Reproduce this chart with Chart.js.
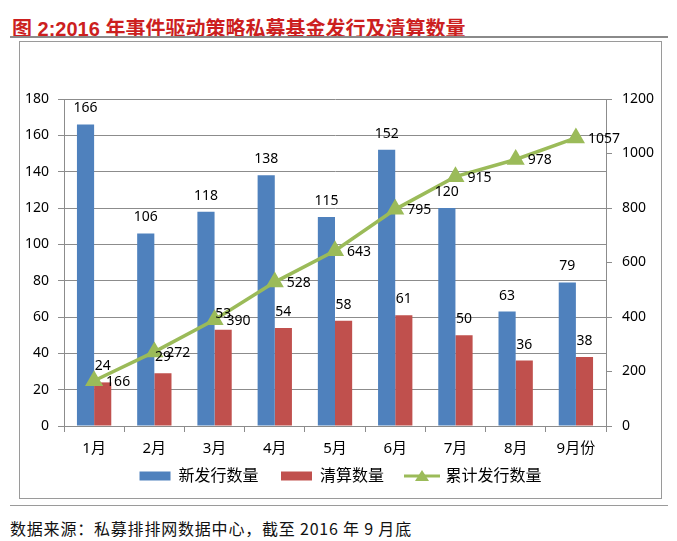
<!DOCTYPE html>
<html>
<head>
<meta charset="utf-8">
<script src="https://cdn.jsdelivr.net/npm/chart.js@4/dist/chart.umd.min.js"></script>
<style>
  body { margin: 0; background: #fff; width: 677px; height: 541px; position: relative; overflow: hidden; }
  #title {
    position: absolute; left: 12px; top: 13px; white-space: nowrap;
    font: bold 20px "Liberation Sans", "Noto Sans CJK SC", sans-serif; color: #CC1F1F;
  }
  #rule1 { position: absolute; left: 10px; top: 36px; width: 658px; height: 2px; background: #8a8a8a; }
  #box { position: absolute; left: 19px; top: 41px; width: 641px; height: 456px; border: 1px solid #9a9a9a; }
  #rule2 { position: absolute; left: 10px; top: 505px; width: 658px; height: 1px; background: #9a9a9a; }
  #source {
    position: absolute; left: 10px; top: 516px; white-space: nowrap; letter-spacing: 0.8px;
    font: 16px "Noto Sans CJK SC", sans-serif; color: #111;
  }
</style>
</head>
<body>
<div id="title">图 2:2016 年事件驱动策略私募基金发行及清算数量</div>
<div id="rule1"></div>
<div id="box"><canvas id="chart" width="641" height="456"></canvas></div>
<div id="rule2"></div>
<div id="source">数据来源：私募排排网数据中心，截至 2016 年 9 月底</div>
<script>
const months = ['1月', '2月', '3月', '4月', '5月', '6月', '7月', '8月', '9月份'];
const newFunds = [166, 106, 118, 138, 115, 152, 120, 63, 79];
const liquidated = [24, 29, 53, 54, 58, 61, 50, 36, 38];
const cumulative = [166, 272, 390, 528, 643, 795, 915, 978, 1057];
const leftTicks = [0, 20, 40, 60, 80, 100, 120, 140, 160, 180];
const rightTicks = [0, 200, 400, 600, 800, 1000, 1200];

const BLUE = '#4F81BD';
const RED = '#C0504D';
const GREEN = '#9BBB59';
const FONT = '"Noto Sans", "Noto Sans CJK SC", sans-serif';

// legend symbol for the line series: short line with a triangle
const lineSymbol = document.createElement('canvas');
lineSymbol.width = 36;
lineSymbol.height = 14;
(function () {
    const c = lineSymbol.getContext('2d');
    c.strokeStyle = GREEN;
    c.lineWidth = 3;
    c.beginPath();
    c.moveTo(0, 7);
    c.lineTo(36, 7);
    c.stroke();
    c.fillStyle = GREEN;
    c.beginPath();
    c.moveTo(18, 1);
    c.lineTo(25, 12);
    c.lineTo(11, 12);
    c.closePath();
    c.fill();
})();

const valueLabels = {
    id: 'valueLabels',
    afterDatasetsDraw(chart) {
        const ctx = chart.ctx;
        ctx.save();
        ctx.font = '14px ' + FONT;
        ctx.fillStyle = '#000';
        ctx.textBaseline = 'middle';
        chart.data.datasets.forEach((ds, i) => {
            const meta = chart.getDatasetMeta(i);
            meta.data.forEach((el, j) => {
                const v = ds.data[j];
                if (ds.type === 'line') {
                    ctx.textAlign = 'left';
                    ctx.fillText(String(v), el.x + 12, el.y + 1);
                } else {
                    ctx.textAlign = 'center';
                    ctx.fillText(String(v), el.x, el.y - 16);
                }
            });
        });
        ctx.restore();
    },
};

new Chart(document.getElementById('chart'), {
    type: 'bar',
    data: {
        labels: months,
        datasets: [
            {
                label: '新发行数量',
                data: newFunds,
                backgroundColor: BLUE,
                yAxisID: 'y',
                categoryPercentage: 0.57,
                barPercentage: 1,
            },
            {
                label: '清算数量',
                data: liquidated,
                backgroundColor: RED,
                yAxisID: 'y',
                categoryPercentage: 0.57,
                barPercentage: 1,
            },
            {
                type: 'line',
                label: '累计发行数量',
                data: cumulative,
                borderColor: GREEN,
                backgroundColor: GREEN,
                borderWidth: 3.5,
                pointStyle: 'triangle',
                pointRadius: 7,
                pointBackgroundColor: GREEN,
                pointBorderColor: GREEN,
                yAxisID: 'y1',
                order: -1,
            },
        ],
    },
    options: {
        responsive: false,
        animation: false,
        layout: {
            padding: { top: 57, left: 0, right: 0, bottom: 4 },
        },
        plugins: {
            tooltip: { enabled: false },
            legend: {
                position: 'bottom',
                labels: {
                    usePointStyle: true,
                    pointStyleWidth: 31,
                    boxHeight: 9,
                    padding: 10,
                    color: '#000',
                    font: { family: FONT, size: 16, lineHeight: 1 },
                    generateLabels(chart) {
                        const last = chart.data.datasets.length - 1;
                        return chart.data.datasets.map((ds, i) => ({
                            text: i < last ? ds.label + '   ' : ds.label,
                            fillStyle: ds.backgroundColor,
                            strokeStyle: ds.backgroundColor,
                            lineWidth: 0,
                            pointStyle: ds.type === 'line' ? lineSymbol : 'rect',
                            datasetIndex: i,
                            hidden: false,
                        }));
                    },
                },
            },
        },
        scales: {
            x: {
                border: { color: '#8c8c8c' },
                grid: { drawOnChartArea: false, tickLength: 6, color: '#8c8c8c', offset: true },
                ticks: { color: '#000', padding: 9, font: { family: FONT, size: 15, lineHeight: 1 } },
                afterFit(scale) { scale.height = 32; },
            },
            y: {
                position: 'left',
                min: 0,
                max: 180,
                afterBuildTicks(scale) { scale.ticks = leftTicks.map((v) => ({ value: v })); },
                border: { color: '#8c8c8c' },
                grid: { color: '#8c8c8c', tickLength: 6 },
                ticks: { color: '#000', padding: 9, font: { family: FONT, size: 14 } },
                afterFit(scale) { scale.width = 44; },
            },
            y1: {
                position: 'right',
                min: 0,
                max: 1200,
                afterBuildTicks(scale) { scale.ticks = rightTicks.map((v) => ({ value: v })); },
                border: { color: '#8c8c8c' },
                grid: { drawOnChartArea: false, color: '#8c8c8c', tickLength: 6 },
                ticks: {
                    color: '#000',
                    padding: 10,
                    font: { family: FONT, size: 14 },
                    callback: (value) => String(value),
                },
                afterFit(scale) { scale.width = 55; },
            },
        },
    },
    plugins: [valueLabels],
});
</script>
</body>
</html>
